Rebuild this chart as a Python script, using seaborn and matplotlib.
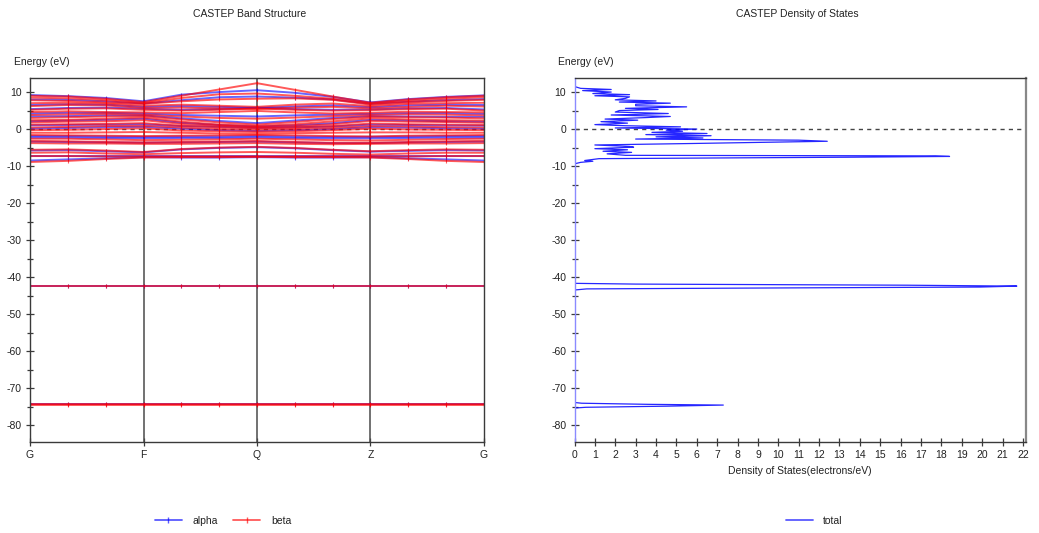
import numpy as np
import pandas as pd
import matplotlib
matplotlib.use("Agg")
import matplotlib.pyplot as plt
import seaborn as sns
from matplotlib.lines import Line2D
from matplotlib.ticker import MultipleLocator

# ---------------- data ----------------
kpath_labels = ["G", "F", "Q", "Z", "G"]
kpath_pos = [0, 3, 6, 9, 12]
kpoints = list(range(13))

beta_bands = [
    [9.0, 8.8, 8.2, 7.3, 9.0, 10.7, 12.4, 10.6, 8.8, 7.1, 8.0, 8.6, 9.0],
    [8.5, 8.3, 7.8, 7.0, 8.4, 9.4, 9.6, 9.0, 8.2, 6.9, 7.6, 8.2, 8.6],
    [7.8, 7.6, 7.2, 6.8, 7.5, 8.0, 8.2, 8.3, 7.9, 6.6, 7.2, 7.6, 7.9],
    [7.0, 7.1, 6.9, 6.3, 6.6, 6.3, 6.0, 6.6, 6.9, 6.2, 6.8, 7.0, 7.1],
    [6.2, 6.5, 6.4, 5.7, 5.8, 5.6, 5.4, 5.8, 6.0, 5.6, 6.0, 6.3, 6.1],
    [5.2, 5.5, 5.6, 5.2, 5.0, 5.2, 5.6, 5.2, 5.0, 5.1, 5.4, 5.5, 5.0],
    [4.6, 4.8, 4.6, 4.5, 4.3, 4.6, 4.9, 4.5, 4.2, 4.4, 4.7, 4.6, 4.5],
    [3.8, 4.0, 4.1, 3.9, 3.4, 3.0, 2.8, 3.1, 3.5, 3.8, 4.0, 3.9, 3.7],
    [3.0, 3.2, 3.4, 3.5, 2.6, 1.8, 1.2, 1.9, 2.7, 3.3, 3.2, 3.1, 2.9],
    [2.4, 2.5, 2.8, 3.1, 2.0, 1.2, 0.8, 1.3, 2.1, 2.9, 2.6, 2.4, 2.3],
    [1.8, 2.0, 2.1, 2.4, 1.4, 0.9, 0.5, 0.8, 1.3, 2.2, 2.0, 1.9, 1.7],
    [1.2, 1.3, 1.4, 1.6, 0.9, 0.5, 0.2, 0.4, 0.8, 1.5, 1.3, 1.2, 1.1],
    [0.4, 0.6, 0.8, 0.9, 0.4, 0.0, -0.2, 0.0, 0.3, 0.8, 0.7, 0.5, 0.4],
    [-0.3, -0.2, 0.0, 0.2, -0.4, -0.6, -0.8, -0.6, -0.3, 0.1, -0.1, -0.2, -0.3],
    [-1.0, -1.0, -0.9, -0.8, -1.0, -1.2, -1.3, -1.1, -1.0, -0.9, -0.9, -1.0, -1.0],
    [-1.6, -1.7, -1.8, -1.9, -1.8, -1.7, -1.6, -1.7, -1.9, -2.0, -1.8, -1.7, -1.6],
    [-2.6, -2.6, -2.8, -3.0, -2.9, -2.8, -2.6, -2.8, -3.0, -3.1, -2.9, -2.7, -2.6],
    [-3.2, -3.3, -3.5, -3.6, -3.5, -3.4, -3.2, -3.5, -3.7, -3.7, -3.5, -3.3, -3.2],
    [-3.8, -3.9, -3.9, -4.0, -4.0, -3.9, -3.8, -4.0, -4.1, -4.0, -3.9, -3.9, -3.8],
    [-5.6, -5.5, -5.8, -6.2, -5.4, -5.0, -4.8, -5.1, -5.6, -6.0, -5.7, -5.5, -5.6],
    [-6.4, -6.3, -6.6, -6.8, -6.5, -6.3, -6.2, -6.4, -6.7, -6.9, -6.6, -6.4, -6.4],
    [-7.3, -7.3, -7.4, -7.4, -7.4, -7.4, -7.4, -7.4, -7.4, -7.4, -7.4, -7.3, -7.3],
    [-8.9, -8.6, -8.1, -7.7, -7.6, -7.6, -7.5, -7.6, -7.6, -7.7, -8.1, -8.6, -8.9],
    [-42.5, -42.5, -42.5, -42.5, -42.5, -42.5, -42.5, -42.5, -42.5, -42.5, -42.5, -42.5, -42.5],
    [-74.3, -74.3, -74.3, -74.3, -74.3, -74.3, -74.3, -74.3, -74.3, -74.3, -74.3, -74.3, -74.3],
    [-74.6, -74.6, -74.6, -74.6, -74.6, -74.6, -74.6, -74.6, -74.6, -74.6, -74.6, -74.6, -74.6],
]

alpha_bands = [
    [9.2, 8.9, 8.4, 7.5, 9.3, 10.0, 10.5, 9.8, 8.7, 7.2, 8.1, 8.7, 9.1],
    [8.0, 7.9, 7.5, 6.9, 7.8, 8.6, 8.8, 8.5, 8.0, 6.8, 7.4, 7.8, 8.1],
    [6.5, 6.7, 6.6, 6.0, 6.2, 6.0, 5.7, 6.1, 6.4, 5.9, 6.4, 6.6, 6.5],
    [5.4, 5.7, 5.8, 5.5, 5.2, 5.4, 5.8, 5.4, 5.2, 5.3, 5.6, 5.7, 5.3],
    [4.2, 4.4, 4.4, 4.2, 3.8, 3.6, 3.4, 3.7, 3.9, 4.1, 4.3, 4.3, 4.1],
    [3.4, 3.5, 3.7, 3.7, 2.9, 2.2, 1.6, 2.3, 3.0, 3.5, 3.4, 3.3, 3.3],
    [2.1, 2.3, 2.5, 2.8, 1.7, 1.1, 0.7, 1.0, 1.6, 2.5, 2.3, 2.1, 2.0],
    [1.0, 1.1, 1.2, 1.3, 0.8, 0.6, 0.3, 0.5, 0.7, 1.2, 1.1, 1.0, 0.9],
    [0.1, 0.3, 0.5, 0.6, 0.1, -0.3, -0.5, -0.3, 0.0, 0.5, 0.4, 0.2, 0.1],
    [-1.9, -1.9, -2.0, -2.1, -2.0, -2.0, -1.9, -2.0, -2.1, -2.1, -2.0, -1.9, -1.9],
    [-2.3, -2.3, -2.4, -2.5, -2.4, -2.4, -2.3, -2.4, -2.5, -2.5, -2.4, -2.3, -2.3],
    [-3.4, -3.5, -3.6, -3.7, -3.6, -3.5, -3.4, -3.6, -3.8, -3.8, -3.6, -3.5, -3.4],
    [-5.8, -5.7, -6.0, -6.3, -5.5, -5.1, -4.9, -5.2, -5.7, -6.1, -5.9, -5.7, -5.8],
    [-7.4, -7.4, -7.4, -7.4, -7.4, -7.4, -7.4, -7.4, -7.4, -7.4, -7.4, -7.4, -7.4],
    [-8.5, -8.2, -7.9, -7.6, -7.7, -7.7, -7.6, -7.7, -7.7, -7.6, -7.9, -8.2, -8.5],
    [-42.5, -42.5, -42.5, -42.5, -42.5, -42.5, -42.5, -42.5, -42.5, -42.5, -42.5, -42.5, -42.5],
    [-74.4, -74.4, -74.4, -74.4, -74.4, -74.4, -74.4, -74.4, -74.4, -74.4, -74.4, -74.4, -74.4],
]

dos_energy = [
    -84.5, -75.4, -75.2, -74.9, -74.6, -74.4, -74.1, -73.9,
    -43.5, -43.2, -43.0, -42.7, -42.45, -42.2, -41.9, -41.7,
    -9.4, -9.0, -8.7, -8.5, -8.0, -7.6, -7.4, -7.25, -7.1, -6.7, -6.3, -6.0,
    -5.6, -5.3, -4.9, -4.7, -4.3, -3.9, -3.3, -3.0, -2.7, -2.4, -2.1, -1.8,
    -1.5, -1.2, -0.9, -0.6, -0.3, 0.0, 0.3, 0.6, 0.9, 1.2, 1.6, 2.0, 2.4,
    2.7, 3.1, 3.4, 3.8, 4.2, 4.6, 5.0, 5.3, 5.6, 6.0, 6.3, 6.7, 7.0, 7.3,
    7.6, 7.9, 8.3, 8.7, 9.0, 9.3, 9.6, 10.0, 10.4, 10.7, 11.0, 11.5, 13.8,
]
dos_value = [
    0.0, 0.0, 0.55, 4.5, 7.3, 3.6, 0.35, 0.0,
    0.0, 0.6, 7.8, 19.9, 21.7, 16.3, 3.0, 0.0,
    0.0, 0.3, 0.9, 0.5, 1.2, 13.7, 18.4, 17.7, 2.5, 1.6, 2.8, 1.4,
    2.6, 1.0, 2.9, 2.7, 1.0, 5.8, 12.4, 11.0, 3.0, 6.3, 4.0, 6.7,
    3.5, 6.5, 3.8, 5.3, 4.5, 6.0, 2.0, 5.2, 2.5, 1.0, 2.6, 1.3, 3.1,
    1.5, 3.5, 4.7, 1.8, 4.6, 2.0, 2.2, 4.1, 2.5, 5.5, 3.0, 3.0, 4.7, 2.2,
    4.0, 2.0, 2.5, 2.7, 1.0, 2.7, 0.9, 1.8, 0.4, 1.8, 0.3, 0.0, 0.0,
]

dos_xticks = list(range(0, 23))
energy_ticks = [10, 0, -10, -20, -30, -40, -50, -60, -70, -80]


def to_long(bands, spin):
    rows = []
    for b, vals in enumerate(bands):
        for k, e in zip(kpoints, vals):
            rows.append((spin, b, k, e))
    return pd.DataFrame(rows, columns=["spin", "band", "k", "E"])


df_alpha = to_long(alpha_bands, "alpha")
df_beta = to_long(beta_bands, "beta")
df_dos = pd.DataFrame({"E": dos_energy, "DOS": dos_value})

# ---------------- style ----------------
sns.set_theme(style="white")
plt.rcParams["font.family"] = ["Liberation Sans", "DejaVu Sans"]
plt.rcParams["font.size"] = 7.5
plt.rcParams["axes.unicode_minus"] = False
TXT = "#222222"
SPINE = "#3a3a3a"
BLUE = "#0000ff"
RED = "#ff0000"

W, H = 1039, 533
fig = plt.figure(figsize=(W / 100, H / 100), dpi=100)
ax1 = fig.add_axes([30 / W, 1 - 441.7 / H, (484 - 30) / W, (441.7 - 78) / H])
ax2 = fig.add_axes([574.5 / W, 1 - 441.7 / H, (1026 - 574.5) / W, (441.7 - 78) / H])

ylim = (-84.5, 13.8)

# ---------------- band structure ----------------
for p in kpath_pos[1:-1]:
    ax1.axvline(p, color="#4a4a4a", lw=1.1, zorder=1)
ax1.axhline(0, color="#555555", lw=1.0, ls=(0, (3, 3)), zorder=1)

line_kw = dict(estimator=None, sort=False, lw=1.4, marker="|", markersize=3,
               markeredgewidth=0.8, legend=False)
sns.lineplot(data=df_alpha, x="k", y="E", units="band", color=BLUE,
             markeredgecolor=BLUE, alpha=0.6, ax=ax1, **line_kw)
sns.lineplot(data=df_beta, x="k", y="E", units="band", color=RED,
             markeredgecolor=RED, alpha=0.65, ax=ax1, **line_kw)

ax1.set_xlim(0, 12)
ax1.set_ylim(*ylim)
ax1.set_xticks(kpath_pos)
ax1.set_xticklabels(kpath_labels)
ax1.set_yticks(energy_ticks)
ax1.yaxis.set_minor_locator(MultipleLocator(5))
ax1.set_xlabel("")
ax1.set_ylabel("")

# ---------------- DOS ----------------
ax2.axhline(0, color="#444444", lw=1.0, ls=(0, (3, 3)), zorder=1)
sns.lineplot(data=df_dos, x="DOS", y="E", estimator=None, sort=False,
             color=BLUE, lw=0.9, alpha=0.85, ax=ax2, legend=False)
ax2.set_xlim(0, 22.15)
ax2.set_ylim(*ylim)
ax2.set_xticks(dos_xticks)
ax2.set_yticks(energy_ticks)
ax2.yaxis.set_minor_locator(MultipleLocator(5))
ax2.set_ylabel("")
ax2.set_xlabel("Density of States(electrons/eV)", color=TXT, fontsize=7.5, labelpad=4)

for ax in (ax1, ax2):
    for s in ax.spines.values():
        s.set_color(SPINE)
        s.set_linewidth(1.0)
    ax.tick_params(axis="both", which="major", direction="inout", length=6,
                   width=0.9, color=SPINE, labelsize=7.5, labelcolor=TXT, pad=3)
    ax.tick_params(axis="y", which="minor", direction="inout", length=5,
                   width=0.9, color=SPINE)
    ax.tick_params(left=True, bottom=True, which="both")
    ax.grid(False)
ax2.spines["right"].set_color("#888888")
ax2.spines["right"].set_linewidth(1.6)
ax2.spines["left"].set_color("#8a8aff")

# ---------------- texts ----------------
fig.text(250 / W, 1 - 14 / H, "CASTEP Band Structure", ha="center", va="center",
         fontsize=7.5, color=TXT)
fig.text(797 / W, 1 - 14 / H, "CASTEP Density of States", ha="center", va="center",
         fontsize=7.5, color=TXT)
fig.text(14 / W, 1 - 62 / H, "Energy (eV)", ha="left", va="center", fontsize=7.5, color=TXT)
fig.text(558 / W, 1 - 62 / H, "Energy (eV)", ha="left", va="center", fontsize=7.5, color=TXT)

# ---------------- legends ----------------
h_alpha = Line2D([], [], color=BLUE, alpha=0.65, lw=1.3, marker="|", markersize=4,
                 markeredgecolor=BLUE)
h_beta = Line2D([], [], color=RED, alpha=0.65, lw=1.3, marker="|", markersize=4,
                markeredgecolor=RED)
fig.legend(handles=[h_alpha, h_beta], labels=["alpha", "beta"], loc="center",
           bbox_to_anchor=(223 / W, 1 - 521 / H), ncol=2, frameon=False,
           handlelength=2.6, handletextpad=1.0, columnspacing=1.5,
           fontsize=7.5, labelcolor=TXT)
h_tot = Line2D([], [], color=BLUE, alpha=0.65, lw=1.3)
fig.legend(handles=[h_tot], labels=["total"], loc="center",
           bbox_to_anchor=(814 / W, 1 - 521 / H), ncol=1, frameon=False,
           handlelength=2.6, handletextpad=1.0, fontsize=7.5, labelcolor=TXT)

fig.savefig("out.png", dpi=100, facecolor="white")
